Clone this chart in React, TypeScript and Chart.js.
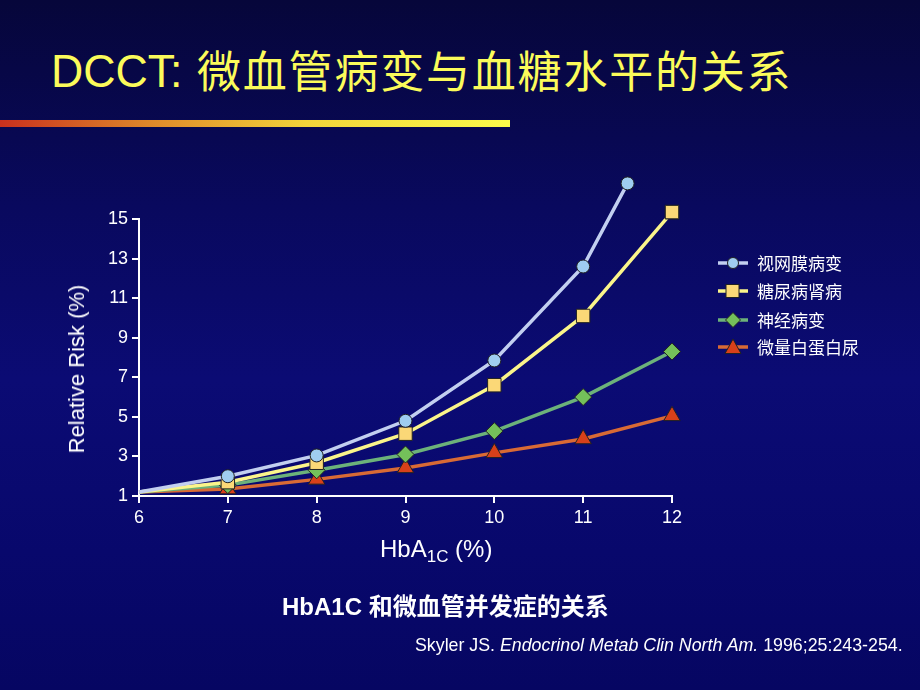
import React, { useEffect, useRef } from "react";
import { Chart, registerables } from "chart.js";

Chart.register(...registerables);

const xTicks = [6, 7, 8, 9, 10, 11, 12];
const yTicks = [1, 3, 5, 7, 9, 11, 13, 15];

const retinoX = [6, 7, 8, 9, 10, 11, 11.5];
const retinoY = [1.2, 2.0, 3.05, 4.8, 7.85, 12.6, 16.8];

const otherX = [6, 7, 8, 9, 10, 11, 12];
const nephroY = [1.2, 1.7, 2.68, 4.15, 6.6, 10.1, 15.35];
const neuroY = [1.2, 1.55, 2.3, 3.1, 4.28, 6.0, 8.3];
const microY = [1.2, 1.35, 1.84, 2.42, 3.18, 3.88, 5.05];

const seriesNames = ["视网膜病变", "糖尿病肾病", "神经病变", "微量白蛋白尿"];

const W = 920;
const H = 690;
const CJK = '"Noto Sans CJK SC", "Liberation Sans", Arial, sans-serif';
const SANS = '"Liberation Sans", Arial, "Noto Sans CJK SC", sans-serif';

const styles = [
  { line: "#c2cff0", fill: "#9fcdf0", shape: "circle", r: 6.5 },
  { line: "#fbf58a", fill: "#fbd877", shape: "rect", r: 9.5 },
  { line: "#6cb27a", fill: "#74c05a", shape: "rectRot", r: 8.5 },
  { line: "#d86a35", fill: "#d8401a", shape: "triangle", r: 9.5 },
];

function pts(xs: number[], ys: number[]) {
  return xs.map((x, i) => ({ x, y: ys[i] }));
}

// Draw points that lie beyond the chart area (e.g. the last retinopathy value above 15)
const outsidePoints = {
  id: "outsidePoints",
  afterDatasetsDraw(chart: any) {
    const a = chart.chartArea;
    const big = { left: -1e5, right: 1e5, top: -1e5, bottom: 1e5 };
    for (let i = chart.data.datasets.length - 1; i >= 0; i--) {
      const meta = chart.getDatasetMeta(i);
      meta.data.forEach((pt: any) => {
        if (pt.y < a.top - 0.5 || pt.y > a.bottom + 0.5 || pt.x < a.left - 0.5 || pt.x > a.right + 0.5) {
          pt.draw(chart.ctx, big);
        }
      });
    }
  },
};

function LegendMarker({ idx }: { idx: number }) {
  const s = styles[idx];
  let marker: React.ReactNode = null;
  if (s.shape === "circle") {
    marker = <circle cx={15} cy={8} r={5.5} fill={s.fill} stroke="#222" strokeWidth={1} />;
  } else if (s.shape === "rect") {
    marker = <rect x={8} y={1.5} width={13} height={13} fill={s.fill} stroke="#222" strokeWidth={1} />;
  } else if (s.shape === "rectRot") {
    marker = <polygon points="15,0.5 22.5,8 15,15.5 7.5,8" fill={s.fill} stroke="#222" strokeWidth={1} />;
  } else {
    marker = <polygon points="15,0 23,14.5 7,14.5" fill={s.fill} stroke="#222" strokeWidth={1} />;
  }
  return (
    <svg width={30} height={16} style={{ position: "absolute", left: 0, top: -8 }}>
      <line x1={0} y1={8} x2={30} y2={8} stroke={s.line} strokeWidth={3.5} />
      {marker}
    </svg>
  );
}

export default function App() {
  const canvasRef = useRef<HTMLCanvasElement | null>(null);

  useEffect(() => {
    const canvas = canvasRef.current;
    if (!canvas) return;
    const datasets = [
      { data: pts(retinoX, retinoY) },
      { data: pts(otherX, nephroY) },
      { data: pts(otherX, neuroY) },
      { data: pts(otherX, microY) },
    ].map((d, i) => {
      const s = styles[i];
      return {
        label: seriesNames[i],
        data: d.data,
        borderColor: s.line,
        backgroundColor: s.fill,
        borderWidth: 3.5,
        pointStyle: s.shape,
        pointRadius: (ctx: any) => (ctx.dataIndex === 0 ? 0 : s.r),
        pointBackgroundColor: s.fill,
        pointBorderColor: "#222222",
        pointBorderWidth: 1,
        tension: 0,
        clip: false as any,
      };
    });

    const chart = new Chart(canvas, {
      type: "line",
      data: { datasets: datasets as any },
      plugins: [outsidePoints as any],
      options: {
        animation: false,
        responsive: false,
        maintainAspectRatio: false,
        layout: { padding: { left: 139 - 50, right: W - 672, top: 219, bottom: H - 496 - 40 } },
        plugins: { legend: { display: false }, tooltip: { enabled: false }, title: { display: false } },
        scales: {
          x: {
            type: "linear",
            min: xTicks[0],
            max: xTicks[xTicks.length - 1],
            afterBuildTicks: (scale: any) => {
              scale.ticks = xTicks.map((v) => ({ value: v }));
            },
            afterFit: (scale: any) => {
              scale.height = 40;
            },
            ticks: { color: "#ffffff", font: { family: SANS, size: 18 }, padding: 4 },
            grid: { display: true, drawOnChartArea: false, drawTicks: true, tickLength: 7, color: "#ffffff", lineWidth: 2 },
            border: { display: true, color: "#ffffff", width: 2 },
          },
          y: {
            type: "linear",
            min: yTicks[0],
            max: yTicks[yTicks.length - 1],
            afterBuildTicks: (scale: any) => {
              scale.ticks = yTicks.map((v) => ({ value: v }));
            },
            afterFit: (scale: any) => {
              scale.width = 50;
            },
            ticks: { color: "#ffffff", font: { family: SANS, size: 18 }, padding: 4 },
            grid: { display: true, drawOnChartArea: false, drawTicks: true, tickLength: 7, color: "#ffffff", lineWidth: 2 },
            border: { display: true, color: "#ffffff", width: 2 },
          },
        },
      },
    });
    return () => chart.destroy();
  }, []);

  return (
    <div
      style={{
        position: "absolute",
        left: 0,
        top: 0,
        width: W,
        height: H,
        overflow: "hidden",
        background: "linear-gradient(to bottom, #06063a 0%, #09095e 30%, #0b0b74 55%, #08086c 80%, #060662 100%)",
      }}
    >
      <div
        style={{
          position: "absolute",
          left: 51,
          top: 47,
          fontFamily: SANS,
          fontSize: 47,
          lineHeight: "47px",
          color: "#fbfb5a",
          whiteSpace: "nowrap",
          transform: "scaleX(0.95)",
          transformOrigin: "0 0",
        }}
      >
        DCCT:
      </div>
      <div
        style={{
          position: "absolute",
          left: 197,
          top: 47,
          fontFamily: CJK,
          fontSize: 44,
          lineHeight: "44px",
          letterSpacing: 1.8,
          color: "#fbfb5a",
          whiteSpace: "nowrap",
        }}
      >
        微血管病变与血糖水平的关系
      </div>
      <div
        style={{
          position: "absolute",
          left: 0,
          top: 120,
          width: 510,
          height: 7,
          background: "linear-gradient(to right, #c8301e 0%, #e08a2a 30%, #f2d43a 60%, #fbfb4a 100%)",
        }}
      />
      <canvas ref={canvasRef} width={W} height={H} style={{ position: "absolute", left: 0, top: 0 }} />
      <div
        style={{
          position: "absolute",
          left: 77,
          top: 369,
          transform: "translate(-50%, -50%) rotate(-90deg)",
          fontFamily: SANS,
          fontSize: 22,
          color: "#ffffff",
          whiteSpace: "nowrap",
        }}
      >
        Relative Risk (%)
      </div>
      <div
        style={{
          position: "absolute",
          left: 380,
          top: 535,
          fontFamily: SANS,
          fontSize: 24,
          lineHeight: "28px",
          color: "#ffffff",
          whiteSpace: "nowrap",
        }}
      >
        HbA<sub style={{ fontSize: 17, verticalAlign: "-5px" }}>1C</sub> (%)
      </div>
      {seriesNames.map((name, i) => (
        <div
          key={name}
          style={{ position: "absolute", left: 718, top: [263, 291, 320, 347][i], width: 170, height: 0 }}
        >
          <LegendMarker idx={i} />
          <div
            style={{
              position: "absolute",
              left: 39,
              top: -13,
              fontFamily: CJK,
              fontSize: 17,
              lineHeight: "26px",
              color: "#ffffff",
              whiteSpace: "nowrap",
            }}
          >
            {name}
          </div>
        </div>
      ))}
      <div
        style={{
          position: "absolute",
          left: 282,
          top: 590,
          fontFamily: SANS,
          fontWeight: "bold",
          fontSize: 24,
          lineHeight: "30px",
          color: "#ffffff",
          whiteSpace: "nowrap",
        }}
      >
        HbA1C <span style={{ fontFamily: CJK }}>和微血管并发症的关系</span>
      </div>
      <div
        style={{
          position: "absolute",
          left: 415,
          top: 633,
          fontFamily: SANS,
          fontSize: 17.8,
          lineHeight: "24px",
          color: "#ffffff",
          whiteSpace: "nowrap",
        }}
      >
        Skyler JS. <i>Endocrinol Metab Clin North Am.</i> 1996;25:243-254.
      </div>
    </div>
  );
}
